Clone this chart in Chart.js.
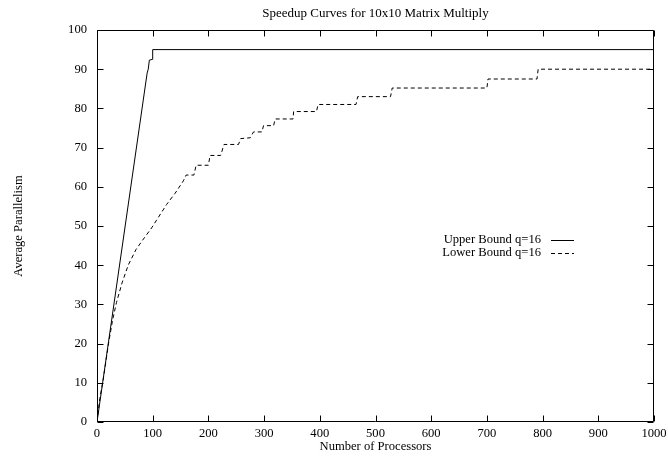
<!DOCTYPE html>
<html>
<head>
<meta charset="utf-8">
<script src="https://cdn.jsdelivr.net/npm/chart.js@4/dist/chart.umd.min.js"></script>
<style>
  html, body { margin: 0; padding: 0; background: #fff; }
  #wrap { width: 668px; height: 456px; }
</style>
</head>
<body>
<div id="wrap"><canvas id="c" width="668" height="456"></canvas></div>
<script>
const chartTitle = "Speedup Curves for 10x10 Matrix Multiply";
const xAxisTitle = "Number of Processors";
const yAxisTitle = "Average Parallelism";
const seriesNames = ["Upper Bound q=16", "Lower Bound q=16"];

const upperX = [0, 90, 92, 94, 99, 100, 1000];
const upperY = [0, 89, 90, 92.3, 92.5, 95, 95];

const lowerX = [0, 5, 11, 21, 28, 35, 45, 56, 70, 85, 98, 107, 125, 140, 155, 160, 174, 178, 200, 203, 222, 228, 254, 258, 275, 281, 296, 299, 317, 320, 352, 353, 394, 397, 465, 468, 527, 530, 700, 702, 790, 792, 1000];
const lowerY = [0, 6, 10.7, 20.3, 26, 30.5, 35.5, 40, 44, 47, 49.5, 51.5, 55.5, 58.3, 61.5, 63, 63, 65.5, 65.5, 68, 68, 70.8, 70.8, 72.3, 72.5, 74, 74, 75.6, 75.6, 77.3, 77.3, 79.2, 79.2, 81, 81, 83, 83, 85.2, 85.2, 87.5, 87.5, 90, 90];

const xTicks = [0, 100, 200, 300, 400, 500, 600, 700, 800, 900, 1000];
const yTicks = [0, 10, 20, 30, 40, 50, 60, 70, 80, 90, 100];

const FONT = "'Liberation Serif', 'DejaVu Serif', serif";
const FS = 12.6;

function pts(xs, ys) { return xs.map((x, i) => ({ x: x, y: ys[i] })); }

const framePlugin = {
  id: 'frame',
  afterDatasetsDraw(chart) {
    const ctx = chart.ctx;
    const a = chart.chartArea;
    const L = Math.round(a.left) + 0.5, R = Math.round(a.right) - 0.5;
    const T = Math.round(a.top) + 0.5, B = Math.round(a.bottom) - 0.5;
    ctx.save();
    ctx.strokeStyle = '#000';
    ctx.lineWidth = 1;
    ctx.setLineDash([]);
    ctx.beginPath();
    ctx.rect(L, T, R - L, B - T);
    const tl = 6;
    chart.scales.x.ticks.forEach(t => {
      const px = Math.round(chart.scales.x.getPixelForValue(t.value)) + 0.5;
      ctx.moveTo(px, B); ctx.lineTo(px, B - tl);
      ctx.moveTo(px, T); ctx.lineTo(px, T + tl);
    });
    chart.scales.y.ticks.forEach(t => {
      const py = Math.round(chart.scales.y.getPixelForValue(t.value)) + 0.5;
      ctx.moveTo(L, py); ctx.lineTo(L + tl, py);
      ctx.moveTo(R, py); ctx.lineTo(R - tl, py);
    });
    ctx.stroke();

    ctx.font = FS + "px " + FONT;
    ctx.fillStyle = '#000';
    ctx.textAlign = 'right';
    ctx.textBaseline = 'middle';
    const ys = [240, 253];
    chart.data.datasets.forEach((ds, i) => {
      ctx.fillText(ds.label, 541, ys[i]);
      ctx.beginPath();
      ctx.setLineDash(ds.borderDash || []);
      ctx.moveTo(551, ys[i] + 0.5);
      ctx.lineTo(574, ys[i] + 0.5);
      ctx.stroke();
    });
    ctx.restore();
  }
};

new Chart(document.getElementById('c'), {
  type: 'line',
  data: {
    datasets: [
      { label: seriesNames[0], data: pts(upperX, upperY), borderColor: '#000', borderWidth: 1, pointRadius: 0, tension: 0, fill: false },
      { label: seriesNames[1], data: pts(lowerX, lowerY), borderColor: '#000', borderWidth: 1, borderDash: [4, 3], pointRadius: 0, tension: 0, fill: false }
    ]
  },
  options: {
    responsive: false,
    animation: false,
    devicePixelRatio: 1,
    layout: { padding: { left: 0, right: 14, top: 0, bottom: 0 } },
    plugins: {
      legend: { display: false },
      tooltip: { enabled: false },
      title: {
        display: true, text: chartTitle, color: '#000', fullSize: false,
        font: { family: FONT, size: 13, weight: 'normal' },
        padding: { top: 6, bottom: 8.4 }
      }
    },
    scales: {
      x: {
        type: 'linear', min: 0, max: 1000,
        afterBuildTicks(s) { s.ticks = xTicks.map(v => ({ value: v })); },
        afterFit(s) { s.height = 34; s.paddingRight = 0; s.paddingLeft = 0; },
        grid: { display: false, drawTicks: false },
        border: { display: false },
        ticks: { color: '#000', font: { family: FONT, size: FS }, padding: 4, maxRotation: 0, autoSkip: false, callback: v => String(v) },
        title: { display: true, text: xAxisTitle, color: '#000', font: { family: FONT, size: FS }, padding: { top: 1.5, bottom: 1.5 } }
      },
      y: {
        type: 'linear', min: 0, max: 100,
        afterBuildTicks(s) { s.ticks = yTicks.map(v => ({ value: v })); },
        afterFit(s) { s.width = 97; s.paddingTop = 0; s.paddingBottom = 0; },
        grid: { display: false, drawTicks: false },
        border: { display: false },
        ticks: { color: '#000', font: { family: FONT, size: FS }, padding: 10, autoSkip: false, callback: v => String(v) },
        title: { display: true, text: yAxisTitle, color: '#000', font: { family: FONT, size: FS }, padding: { top: 11.5, bottom: 11.5 } }
      }
    }
  },
  plugins: [framePlugin]
});
</script>
</body>
</html>
